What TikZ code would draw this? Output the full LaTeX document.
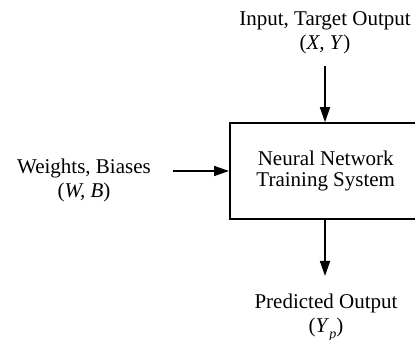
\documentclass[tikz,border=0pt]{standalone}
\usepackage{fontspec}
\setmainfont{Liberation Serif}
\usetikzlibrary{arrows.meta}
\begin{document}
\begin{tikzpicture}[x=1pt,y=1pt,
  lbl/.style={align=center,inner sep=0pt,font=\fontsize{21}{24}\selectfont},
  sysbox/.style={draw,line width=1.5pt,minimum width=212pt,minimum height=96pt,inner sep=0pt,font=\fontsize{21}{24}\selectfont},
  arr/.style={line width=1.5pt,-{Triangle[length=15pt,width=10pt]}}]
\useasboundingbox (0,0) rectangle (415,340);
\clip (0,0) rectangle (415,340);
\node[sysbox,anchor=west] (sys) at (229,169) {\begin{tabular}{@{}c@{}}Neural Network\\[-3pt]Training System\end{tabular}\hspace*{20pt}};
\node[lbl] (in) at (325,307) {Input, Target Output\\(\textit{X, Y})};
\node[lbl] (wb) at (84,160) {Weights, Biases\\(\textit{W, B})};
\node[lbl] (out) at (326,22) {Predicted Output\\(\textit{Y}\raisebox{-0.3em}{\fontsize{14}{14}\selectfont\textit{p}})};
\coordinate (inS) at (325,274);
\coordinate (wbS) at (173,169);
\coordinate (outE) at (325,64);
\draw[arr] (inS) -- (inS |- sys.north);
\draw[arr] (wbS) -- (sys.west);
\draw[arr] (outE |- sys.south) -- (outE);
\end{tikzpicture}
\end{document}
